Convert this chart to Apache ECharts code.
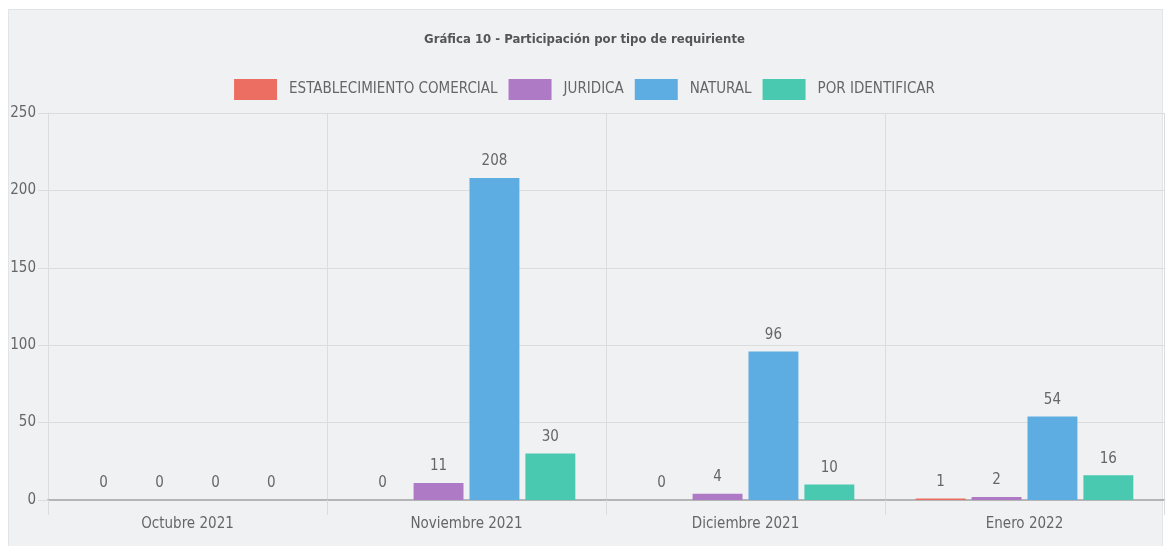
<!DOCTYPE html>
<html><head><meta charset="utf-8">
<script src="https://cdn.jsdelivr.net/npm/echarts@6/dist/echarts.min.js"></script>
<style>
html,body{margin:0;padding:0;background:#fff;width:1169px;height:546px;overflow:hidden}
#panel{position:absolute;left:8px;top:9px;width:1155px;height:540px;background:#f0f1f3;border:1px solid #e3e4e6;box-sizing:border-box}
#c{position:absolute;left:0;top:0;width:1169px;height:546px}
</style></head><body>
<div id="panel"></div>
<div id="c"></div>
<script>
const titleText = 'Gráfica 10 - Participación por tipo de requiriente';
const categories = ['Octubre 2021', 'Noviembre 2021', 'Diciembre 2021', 'Enero 2022'];
const seriesNames = ['ESTABLECIMIENTO COMERCIAL', 'JURIDICA', 'NATURAL', 'POR IDENTIFICAR'];
const establecimiento = [0, 0, 0, 1];
const juridica = [0, 11, 4, 2];
const natural = [0, 208, 96, 54];
const porIdentificar = [0, 30, 10, 16];
const colors = ['#ec6d62', '#ae79c5', '#5dade2', '#48c9b0'];

const FONT = '"DejaVu Sans Condensed", "Liberation Sans Narrow", sans-serif';
const data = [establecimiento, juridica, natural, porIdentificar];

const chart = echarts.init(document.getElementById('c'), null, {renderer: 'canvas'});
chart.setOption({
  backgroundColor: 'transparent',
  animation: false,
  title: {
    text: titleText, left: 'center', top: 28,
    textStyle: {fontFamily: FONT, fontSize: 13, fontWeight: 'bold', color: '#555'}
  },
  legend: {
    data: seriesNames, top: 74, left: 'center', icon: 'rect',
    itemWidth: 43, itemHeight: 21, itemGap: 11,
    textStyle: {fontFamily: FONT, fontSize: 15, color: '#666', padding: [0, 0, 0, 7]}
  },
  grid: {left: 48, right: 5, top: 113, bottom: 46, containLabel: false},
  xAxis: {
    type: 'category', data: categories,
    axisLine: {show: true, onZero: true, lineStyle: {color: '#b5b5b5', width: 2}},
    axisTick: {show: true, length: 15, lineStyle: {color: '#dcdcdc'}},
    splitLine: {show: true, lineStyle: {color: '#dcdcdc'}},
    axisLabel: {fontFamily: FONT, fontSize: 15, color: '#666', margin: 17}
  },
  yAxis: {
    type: 'value', min: 0, max: 250, interval: 50,
    axisLine: {show: true, lineStyle: {color: '#dcdcdc'}},
    axisTick: {show: true, length: 10, lineStyle: {color: '#dcdcdc'}},
    splitLine: {show: true, lineStyle: {color: '#dcdcdc'}},
    axisLabel: {fontFamily: FONT, fontSize: 15, color: '#666', margin: 12}
  },
  series: seriesNames.map((n, i) => ({
    name: n, type: 'bar', data: data[i],
    barGap: '12%', barCategoryGap: '22%',
    itemStyle: {color: colors[i], borderWidth: 0},
    label: {show: true, position: 'top', distance: 9, fontFamily: FONT, fontSize: 15, color: '#666'}
  }))
});
</script>
</body></html>
